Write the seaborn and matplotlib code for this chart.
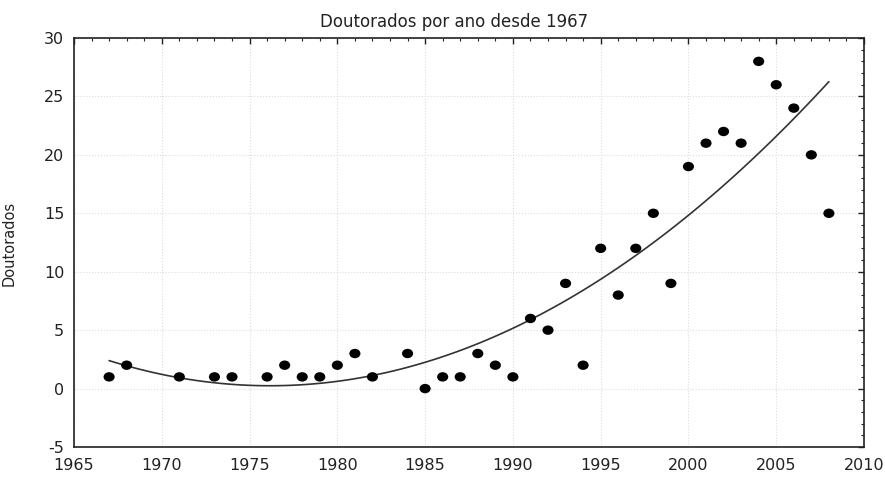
import matplotlib
matplotlib.use("Agg")
import matplotlib.pyplot as plt
from matplotlib.path import Path
from matplotlib.transforms import Affine2D
from matplotlib.ticker import MultipleLocator
import pandas as pd
import seaborn as sns

anos = [1967, 1968, 1971, 1973, 1974, 1976, 1977, 1978, 1979, 1980, 1981, 1982,
        1984, 1985, 1986, 1987, 1988, 1989, 1990, 1991, 1992, 1993, 1994, 1995,
        1996, 1997, 1998, 1999, 2000, 2001, 2002, 2003, 2004, 2005, 2006, 2007, 2008]
doutorados = [1, 2, 1, 1, 1, 1, 2, 1, 1, 2, 3, 1,
              3, 0, 1, 1, 3, 2, 1, 6, 5, 9, 2, 12,
              8, 12, 15, 9, 19, 21, 22, 21, 28, 26, 24, 20, 15]

df = pd.DataFrame({"ano": anos, "doutorados": doutorados})

sns.set_style("white")
plt.rcParams["font.family"] = ["DejaVu Sans"]
plt.rcParams["axes.unicode_minus"] = False

# slightly wide dots, as in the original (stretched) picture
circle = Path.unit_circle()
dot = circle.transformed(Affine2D().scale(1.18, 1.0))

fig = plt.figure(figsize=(8.85, 4.82), dpi=100)
ax = fig.add_axes([74 / 885, 1 - 447 / 482, 790 / 885, 409 / 482])

sns.regplot(
    data=df, x="ano", y="doutorados", order=2, ci=None, ax=ax,
    marker=dot,
    scatter_kws={"s": 64, "color": "black", "edgecolor": "none", "zorder": 3, "alpha": 1},
    line_kws={"color": "#333333", "linewidth": 1.2},
)

ax.set_xlim(1965, 2010)
ax.set_ylim(-5, 30)
ax.xaxis.set_major_locator(MultipleLocator(5))
ax.xaxis.set_minor_locator(MultipleLocator(1))
ax.yaxis.set_major_locator(MultipleLocator(5))
ax.yaxis.set_minor_locator(MultipleLocator(1))
ax.tick_params(which="both", direction="in", top=True, right=True,
               labelsize=11.5, colors="#222222", labelcolor="#222222")
ax.tick_params(which="major", length=4, width=1.0, pad=7)
ax.tick_params(axis="x", which="major", pad=8)
ax.tick_params(which="minor", length=2.5, width=0.8)
ax.grid(True, which="major", linestyle=":", color="#dcdcdc", linewidth=0.8)
for s in ax.spines.values():
    s.set_color("#222222")
    s.set_linewidth(1.2)

ax.set_title("Doutorados por ano desde 1967", fontsize=12, pad=8,
             x=(454 - 74) / 790, color="#222222")
ax.set_xlabel("")
ax.set_ylabel("Doutorados", fontsize=10.5, color="#222222")
ax.yaxis.set_label_coords(-(74 - 17) / 790, (447 - 243) / 409)

fig.savefig("out.png", dpi=100)
